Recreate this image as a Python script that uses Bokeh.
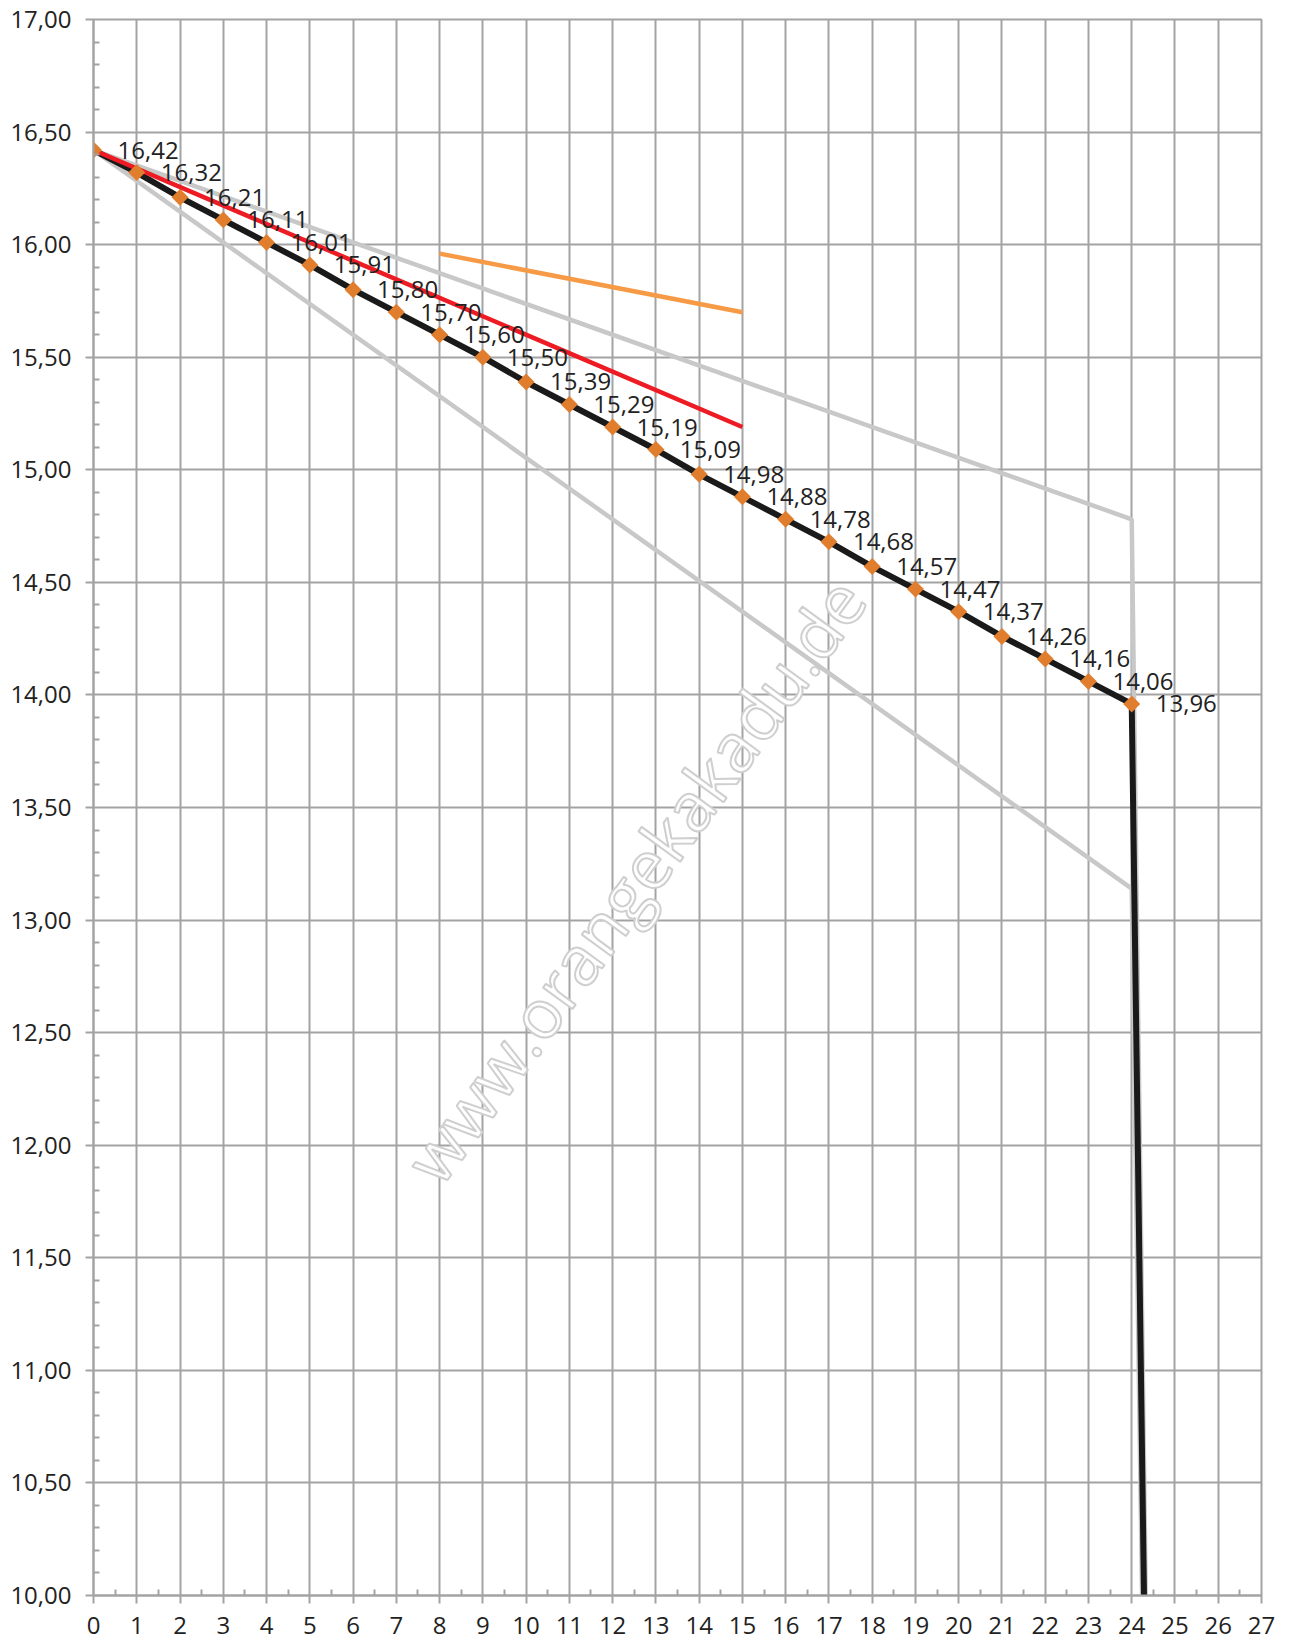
import numpy as np
from bokeh.plotting import figure
from bokeh.models import Range1d, FixedTicker
from bokeh.embed import file_html
from bokeh.resources import INLINE
from bokeh.core.properties import value

# ---- data ----
hours = list(range(25))
voltage = [16.42, 16.32, 16.21, 16.11, 16.01, 15.91, 15.80, 15.70, 15.60, 15.50,
           15.39, 15.29, 15.19, 15.09, 14.98, 14.88, 14.78, 14.68, 14.57, 14.47,
           14.37, 14.26, 14.16, 14.06, 13.96]
cutoff_x = [25]
cutoff_y = [0.0]
upper_x = [0, 24, 25]
upper_y = [16.42, 14.78, 0.0]
lower_x = [0, 24, 25]
lower_y = [16.42, 13.14, 0.0]
red_x = [0, 15]
red_y = [16.42, 15.19]
orange_x = [8, 15]
orange_y = [15.96, 15.70]
y_ticks = [10.0, 10.5, 11.0, 11.5, 12.0, 12.5, 13.0, 13.5, 14.0, 14.5, 15.0, 15.5, 16.0, 16.5, 17.0]
y_tick_labels = ["10,00", "10,50", "11,00", "11,50", "12,00", "12,50", "13,00", "13,50",
                 "14,00", "14,50", "15,00", "15,50", "16,00", "16,50", "17,00"]
x_ticks = list(range(28))
x_tick_labels = [str(t) for t in x_ticks]
point_labels = ["16,42", "16,32", "16,21", "16,11", "16,01", "15,91", "15,80", "15,70",
                "15,60", "15,50", "15,39", "15,29", "15,19", "15,09", "14,98", "14,88",
                "14,78", "14,68", "14,57", "14,47", "14,37", "14,26", "14,16", "14,06", "13,96"]
watermark = "www.orangekakadu.de"

GRID = "#A3A3A3"
FONT = "Open Sans"
TXT = "#222222"

p = figure(frame_width=1168, frame_height=1576,
           x_range=Range1d(0, 27), y_range=Range1d(10, 17),
           output_backend="svg", toolbar_location=None,
           min_border_left=93, min_border_top=19, min_border_right=22, min_border_bottom=50)

p.outline_line_color = GRID
p.outline_line_width = 2
p.background_fill_color = "white"

x_minor = [t + 0.5 for t in range(27)]
y_minor = [round(10 + 0.1 * i, 2) for i in range(71) if i % 5 != 0]

p.xaxis.ticker = FixedTicker(ticks=x_ticks, minor_ticks=x_minor)
p.yaxis.ticker = FixedTicker(ticks=y_ticks, minor_ticks=y_minor)
p.xgrid.ticker = FixedTicker(ticks=x_ticks)
p.ygrid.ticker = FixedTicker(ticks=y_ticks)
p.xaxis.major_label_overrides = {t: l for t, l in zip(x_ticks, x_tick_labels)}
p.yaxis.major_label_overrides = {t: l for t, l in zip(y_ticks, y_tick_labels)}

for ax in (p.xaxis[0], p.yaxis[0]):
    ax.axis_line_color = GRID
    ax.axis_line_width = 2
    ax.major_tick_line_color = GRID
    ax.major_tick_line_width = 2
    ax.minor_tick_line_color = GRID
    ax.minor_tick_line_width = 2
    ax.major_tick_out = 8
    ax.major_tick_in = 0
    ax.minor_tick_in = 6
    ax.minor_tick_out = 0
    ax.major_label_text_font = FONT
    ax.major_label_text_font_size = "24px"
    ax.major_label_text_color = TXT
p.xaxis.major_label_standoff = 13
p.yaxis.major_label_standoff = 14

for g in (p.xgrid[0], p.ygrid[0]):
    g.grid_line_color = GRID
    g.grid_line_width = 2
    g.grid_line_alpha = 1.0

# watermark (outlined text)
p.text(x=[12.5], y=[13.18], text=[watermark], angle=0.94,
       text_align="center", text_baseline="middle",
       text_font=value(FONT), text_font_size="68px",
       text_color="white", text_outline_color="#CFCFCF")

# series
p.line(upper_x, upper_y, line_color="#C8C8C8", line_width=4.5)
p.line(lower_x, lower_y, line_color="#C8C8C8", line_width=4.5)
p.line(orange_x, orange_y, line_color="#F79A46", line_width=4.5)
p.line(hours + cutoff_x, voltage + cutoff_y, line_color="#1A1A1A", line_width=6)
p.line(red_x, red_y, line_color="#ED1C24", line_width=4.5)
p.scatter(hours, voltage, marker="square", angle=np.pi / 4, size=12,
          fill_color="#E07E2E", line_color=None)
p.text(x=hours, y=voltage, text=point_labels, x_offset=24,
       text_align="left", text_baseline="middle",
       text_font=value(FONT), text_font_size="24px", text_color=TXT)

open("out.html", "w").write(file_html(p, INLINE))
